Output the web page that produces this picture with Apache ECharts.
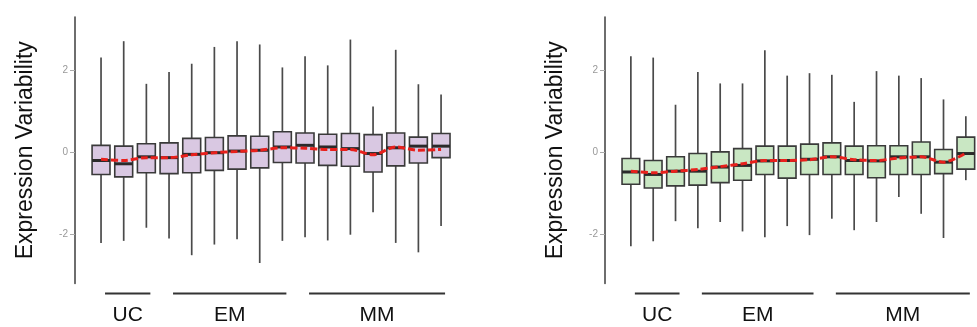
<!DOCTYPE html>
<html><head><meta charset="utf-8">
<script src="https://cdn.jsdelivr.net/npm/echarts@6/dist/echarts.min.js"></script>
<style>html,body{margin:0;padding:0;background:#fff}#c{width:977px;height:327px}</style>
</head><body><div id="c"></div>
<script>
const categories = ['UC1','UC2','UC3','EM1','EM2','EM3','EM4','EM5','EM6','MM1','MM2','MM3','MM4','MM5','MM6','MM7'];
const groups = [['UC',0,2],['EM',3,8],['MM',9,15]];
const yTicks = [-2,0,2];
const yTitle = 'Expression Variability';
// [min, Q1, median, Q3, max]
const leftBoxes = [
 [-2.21,-0.54,-0.20,0.17,2.31],
 [-2.16,-0.60,-0.28,0.15,2.71],
 [-1.84,-0.50,-0.11,0.21,1.67],
 [-2.10,-0.52,-0.13,0.23,1.96],
 [-2.51,-0.50,-0.05,0.34,2.16],
 [-2.25,-0.44,-0.01,0.36,2.57],
 [-2.12,-0.41,0.03,0.40,2.71],
 [-2.70,-0.38,0.05,0.39,2.63],
 [-2.16,-0.25,0.13,0.50,2.07],
 [-2.07,-0.26,0.17,0.47,2.34],
 [-2.15,-0.32,0.13,0.44,2.12],
 [-2.01,-0.34,0.09,0.46,2.75],
 [-1.46,-0.48,-0.03,0.43,1.12],
 [-2.21,-0.33,0.11,0.47,2.50],
 [-2.44,-0.26,0.15,0.37,1.66],
 [-1.80,-0.13,0.15,0.46,1.41]
];
const leftMeans = [-0.17,-0.20,-0.13,-0.13,-0.06,-0.01,0.02,0.05,0.11,0.10,0.07,0.07,-0.06,0.13,0.05,0.07];
const rightBoxes = [
 [-2.29,-0.78,-0.48,-0.15,2.34],
 [-2.17,-0.87,-0.54,-0.20,2.31],
 [-1.68,-0.82,-0.46,-0.11,1.16],
 [-1.85,-0.80,-0.46,-0.03,1.96],
 [-1.70,-0.74,-0.36,0.01,1.68],
 [-1.93,-0.68,-0.32,0.09,1.68],
 [-2.07,-0.54,-0.21,0.15,2.49],
 [-1.80,-0.63,-0.20,0.15,1.87],
 [-2.02,-0.54,-0.17,0.20,1.93],
 [-1.62,-0.54,-0.11,0.23,1.89],
 [-1.90,-0.54,-0.20,0.15,1.23],
 [-1.70,-0.62,-0.21,0.16,1.98],
 [-1.09,-0.54,-0.11,0.16,1.87],
 [-1.50,-0.54,-0.11,0.25,1.81],
 [-2.09,-0.52,-0.24,0.07,1.29],
 [-0.68,-0.41,-0.03,0.37,0.88]
];
const rightMeans = [-0.46,-0.50,-0.46,-0.42,-0.35,-0.28,-0.20,-0.20,-0.18,-0.11,-0.18,-0.20,-0.14,-0.11,-0.24,-0.02];

const FONT = 'Liberation Sans, Arial, sans-serif';

function makeBoxRender(fill) {
  return function (params, api) {
    const x = api.value(0);
    const pMin = api.coord([x, api.value(1)]);
    const pQ1 = api.coord([x, api.value(2)]);
    const pMed = api.coord([x, api.value(3)]);
    const pQ3 = api.coord([x, api.value(4)]);
    const pMax = api.coord([x, api.value(5)]);
    const bw = api.size([1, 0])[0] * 0.79;
    const cx = pMed[0];
    const wStyle = {stroke: '#4a4a4a', lineWidth: 1.7};
    return {
      type: 'group',
      children: [
        {type: 'line', shape: {x1: cx, y1: pMax[1], x2: cx, y2: pQ3[1]}, style: wStyle},
        {type: 'line', shape: {x1: cx, y1: pQ1[1], x2: cx, y2: pMin[1]}, style: wStyle},
        {type: 'rect', shape: {x: cx - bw / 2, y: pQ3[1], width: bw, height: pQ1[1] - pQ3[1]},
          style: {fill: fill, stroke: '#3a3a3a', lineWidth: 1.6}},
        {type: 'line', shape: {x1: cx - bw / 2, y1: pMed[1], x2: cx + bw / 2, y2: pMed[1]},
          style: {stroke: '#2a2a2a', lineWidth: 3}}
      ]
    };
  };
}

function groupRender(params, api) {
  const g = groups[params.dataIndex];
  const p1 = api.coord([g[1], 0]);
  const p2 = api.coord([g[2], 0]);
  const cs = params.coordSys;
  const bottom = cs.y + cs.height;
  const x1 = p1[0] + 4, x2 = p2[0] + 4;
  return {
    type: 'group',
    children: [
      {type: 'line', shape: {x1: x1, y1: bottom + 10, x2: x2, y2: bottom + 10},
        style: {stroke: '#333', lineWidth: 1.8}},
      {type: 'text', style: {text: g[0], x: (x1 + x2) / 2, y: bottom + 32, align: 'center',
        verticalAlign: 'middle', fill: '#111', font: '21px ' + FONT}}
    ]
  };
}

function yAxisDef(gridIndex) {
  return {
    type: 'value', gridIndex: gridIndex, min: -3.2, max: 3.3, offset: 14.7,
    axisLine: {show: true, lineStyle: {color: '#4a4a4a', width: 1.6}},
    axisTick: {show: true, customValues: yTicks, length: 5, lineStyle: {color: '#aaa', width: 1}},
    axisLabel: {show: true, customValues: yTicks, color: '#999', fontSize: 10, margin: 7, fontFamily: FONT},
    splitLine: {show: false},
    name: yTitle, nameLocation: 'middle', nameGap: 38,
    nameTextStyle: {fontSize: 23, color: '#111', fontFamily: FONT}
  };
}
function xAxisDef(gridIndex) {
  return {
    type: 'category', gridIndex: gridIndex, data: categories, boundaryGap: true,
    axisLine: {show: false}, axisTick: {show: false}, axisLabel: {show: false}, splitLine: {show: false}
  };
}

function panelSeries(idx, boxes, means, fill) {
  return [
    {type: 'custom', xAxisIndex: idx, yAxisIndex: idx, renderItem: makeBoxRender(fill),
      encode: {x: 0, y: [1, 2, 3, 4, 5]}, data: boxes.map((b, i) => [i].concat(b)), z: 2, silent: true},
    {type: 'line', xAxisIndex: idx, yAxisIndex: idx, data: means, smooth: 0.3, symbol: 'none',
      lineStyle: {color: '#e8201c', width: 3, type: [7, 3]}, z: 5, silent: true},
    {type: 'custom', xAxisIndex: idx, yAxisIndex: idx, renderItem: groupRender,
      encode: {x: [0, 1]}, data: groups.map(g => [g[1], g[2]]), z: 3, silent: true}
  ];
}

const chart = echarts.init(document.getElementById('c'), null, {renderer: 'canvas'});
chart.setOption({
  animation: false,
  backgroundColor: '#fff',
  grid: [
    {left: 89.7, top: 17, width: 362.7, height: 266.5},
    {left: 619.7, top: 17, width: 362.7, height: 266.5}
  ],
  xAxis: [xAxisDef(0), xAxisDef(1)],
  yAxis: [yAxisDef(0), yAxisDef(1)],
  series: panelSeries(0, leftBoxes, leftMeans, '#d9c8e2').concat(panelSeries(1, rightBoxes, rightMeans, '#c9e7c3'))
});
</script>
</body></html>
